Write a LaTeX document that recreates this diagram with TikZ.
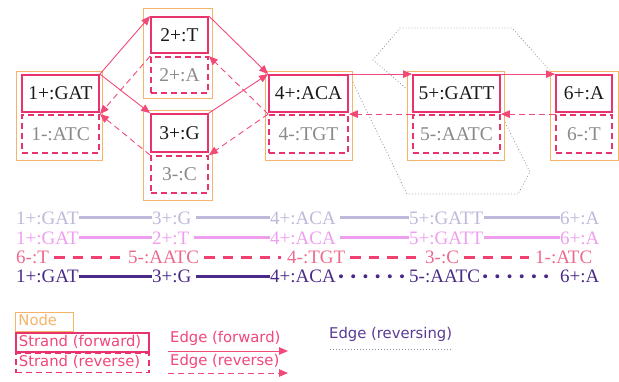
\documentclass[tikz,border=0pt]{standalone}
\usepackage{fontspec}
\setmainfont{Liberation Serif}
\setsansfont{DejaVu Sans}
\usetikzlibrary{arrows.meta,backgrounds}
\definecolor{strandc}{HTML}{E8336D}
\definecolor{edgec}{HTML}{F24A78}
\definecolor{nodec}{HTML}{F6B46A}
\definecolor{fwdtext}{HTML}{1A1A1A}
\definecolor{revtext}{HTML}{8A8A8A}
\definecolor{dotc}{HTML}{8C8CA6}
\definecolor{rowa}{HTML}{BDB9DA}
\definecolor{rowb}{HTML}{EE9EEE}
\definecolor{rowc}{HTML}{EC6A8C}
\definecolor{rowcl}{HTML}{F0406F}
\definecolor{rowd}{HTML}{4A2A88}
\definecolor{legpink}{HTML}{F0467A}
\definecolor{legpurple}{HTML}{5A3A96}
\begin{document}
\begin{tikzpicture}[x=1pt,y=-1pt,
  nodebox/.style={draw=nodec, line width=0.9pt, fill=white, inner sep=0pt},
  fwd/.style={draw=strandc, line width=1.8pt, fill=white, inner sep=0pt, font=\fontsize{19.5}{21}\selectfont, text=fwdtext},
  rev/.style={draw=strandc, line width=1.8pt, dash pattern=on 6pt off 4pt, fill=white, inner sep=0pt, font=\fontsize{19.5}{21}\selectfont, text=revtext},
  fe/.style={draw=edgec, line width=0.9pt, -{Triangle[length=9pt,width=7.5pt]}},
  re/.style={fe, dash pattern=on 6pt off 4pt},
  rvs/.style={draw=dotc, line width=0.8pt, dash pattern=on 0.8pt off 2.2pt},
  rowtxt/.style={anchor=base west, inner sep=0pt, font=\fontsize{19}{21}\selectfont, text height=12.5pt, text depth=0pt},
  solidrow/.style={line width=2.6pt, shorten >=0.5pt, shorten <=0.5pt},
  dashrow/.style={line width=3.2pt, dash pattern=on 10.5pt off 8pt, shorten <=5pt, shorten >=6pt},
  dotrow/.style={line width=4pt, line cap=round, dash pattern=on 0pt off 12.2pt, shorten <=5pt, shorten >=6pt},
  legtxt/.style={font=\sffamily\fontsize{14.8}{16}\selectfont, inner sep=0pt, anchor=west, text height=10.5pt, text depth=3pt},
  legbox/.style={legtxt, inner xsep=3pt, text width=127pt, align=left, minimum height=19pt}
]
\useasboundingbox (0,0) rectangle (619,381);

% node boxes (orange)
\node[nodebox, minimum width=86pt, minimum height=89pt] (o1) at (59,115.5) {};
\node[nodebox, minimum width=69pt, minimum height=90pt] (o2) at (177.5,53) {};
\node[nodebox, minimum width=69pt, minimum height=90pt] (o3) at (177.5,155) {};
\node[nodebox, minimum width=87pt, minimum height=89pt] (o4) at (308.5,115.5) {};
\node[nodebox, minimum width=97pt, minimum height=89pt] (o5) at (455.5,115.5) {};
\node[nodebox, minimum width=68pt, minimum height=89pt] (o6) at (584,115.5) {};

% strands
\node[fwd, minimum width=77pt, minimum height=37pt] (f1) at (60.5,93.5) {1+:GAT};
\node[rev, minimum width=77pt, minimum height=38pt] (r1) at (60.5,134) {1-:ATC};
\node[fwd, minimum width=57pt, minimum height=36pt] (f2) at (179.5,35) {2+:T};
\node[rev, minimum width=57pt, minimum height=36pt] (r2) at (179.5,75) {2+:A};
\node[fwd, minimum width=57pt, minimum height=38pt] (f3) at (179.5,133) {3+:G};
\node[rev, minimum width=57pt, minimum height=37pt] (r3) at (179.5,174.5) {3-:C};
\node[fwd, minimum width=79pt, minimum height=37pt] (f4) at (308.5,93.5) {4+:ACA};
\node[rev, minimum width=79pt, minimum height=38pt] (r4) at (308.5,134) {4-:TGT};
\node[fwd, minimum width=87pt, minimum height=37pt] (f5) at (456.5,93.5) {5+:GATT};
\node[rev, minimum width=87pt, minimum height=38pt] (r5) at (456.5,134) {5-:AATC};
\node[fwd, minimum width=56pt, minimum height=37pt] (f6) at (584,93.5) {6+:A};
\node[rev, minimum width=56pt, minimum height=38pt] (r6) at (584,134) {6-:T};

% reversing edges (dotted, behind the node boxes)
\coordinate (a1) at (407,194);
\coordinate (a2) at (518,194);
\coordinate (a3) at (530,172);
\coordinate (b1) at (373,60);
\coordinate (b2) at (400,28);
\coordinate (b3) at (512,28);
\begin{scope}[on background layer]
\draw[rvs] (f4.north east) -- (a1) -- (a2) -- (a3) -- (r5.north east);
\draw[rvs] (f5.west) -- (b1) -- (b2) -- (b3) -- (o6.north west);
\end{scope}

% forward edges
\draw[fe] (f1.north east) -- (f2.north west);
\draw[fe] (f1.north east) -- (f3.north west);
\draw[fe] (f2.north east) -- (f4.north west);
\draw[fe] (f3.north east) -- (f4.north west);
\draw[fe] (f4.north east) -- (f5.north west);
\draw[fe] (f5.north east) -- (f6.north west);
% reverse edges
\draw[re] (r2.north west) -- (r1.north east);
\draw[re] (r3.north west) -- (r1.north east);
\draw[re] (r4.north west) -- (r2.north east);
\draw[re] (r4.north west) -- (r3.north east);
\draw[re] (r5.north west) -- (r4.north east);
\draw[re] (r6.north west) -- (r5.north east);

% paths
\node[rowtxt, text=rowa] (p1a) at (16,224) {1+:GAT};
\node[rowtxt, text=rowa] (p1b) at (152,224) {3+:G};
\node[rowtxt, text=rowa] (p1c) at (270,224) {4+:ACA};
\node[rowtxt, text=rowa] (p1d) at (409,224) {5+:GATT};
\node[rowtxt, text=rowa] (p1e) at (560,224) {6+:A};
\draw[solidrow, rowa] (p1a.east) -- (p1b.west);
\draw[solidrow, rowa, shorten <=4pt] (p1b.east) -- (p1c.west);
\draw[solidrow, rowa, shorten <=4pt] (p1c.east) -- (p1d.west);
\draw[solidrow, rowa] (p1d.east) -- (p1e.west);

\node[rowtxt, text=rowb] (p2a) at (16,244) {1+:GAT};
\node[rowtxt, text=rowb] (p2b) at (152,244) {2+:T};
\node[rowtxt, text=rowb] (p2c) at (270,244) {4+:ACA};
\node[rowtxt, text=rowb] (p2d) at (409,244) {5+:GATT};
\node[rowtxt, text=rowb] (p2e) at (560,244) {6+:A};
\draw[solidrow, rowb] (p2a.east) -- (p2b.west);
\draw[solidrow, rowb, shorten <=4pt] (p2b.east) -- (p2c.west);
\draw[solidrow, rowb, shorten <=4pt] (p2c.east) -- (p2d.west);
\draw[solidrow, rowb] (p2d.east) -- (p2e.west);

\node[rowtxt, text=rowc] (p3a) at (16,263.5) {6-:T};
\node[rowtxt, text=rowc] (p3b) at (128,263.5) {5-:AATC};
\node[rowtxt, text=rowc] (p3c) at (287,263.5) {4-:TGT};
\node[rowtxt, text=rowc] (p3d) at (425,263.5) {3-:C};
\node[rowtxt, text=rowc] (p3e) at (535,263.5) {1-:ATC};
\draw[dashrow, rowcl] (p3a.east) -- (p3b.west);
\draw[dashrow, rowcl] (p3b.east) -- (p3c.west);
\draw[dashrow, rowcl] (p3c.east) -- (p3d.west);
\draw[dashrow, rowcl] (p3d.east) -- (p3e.west);

\node[rowtxt, text=rowd] (p4a) at (16,282.5) {1+:GAT};
\node[rowtxt, text=rowd] (p4b) at (152,282.5) {3+:G};
\node[rowtxt, text=rowd] (p4c) at (270,282.5) {4+:ACA};
\node[rowtxt, text=rowd] (p4d) at (409,282.5) {5-:AATC};
\node[rowtxt, text=rowd] (p4e) at (560,282.5) {6+:A};
\draw[solidrow, rowd] (p4a.east) -- (p4b.west);
\draw[solidrow, rowd, shorten <=4pt] (p4b.east) -- (p4c.west);
\draw[dotrow, rowd] (p4c.east) -- (p4d.west);
\draw[dotrow, rowd] (p4d.east) -- (p4e.west);

% legend
\node[legtxt, draw=nodec, line width=0.9pt, text=nodec, inner xsep=3pt, text width=52pt, align=left, minimum height=19pt] (lnode) at (15,321.5) {Node};
\node[legbox, draw=strandc, line width=1.8pt, text=legpink] (lfwd) at (15,342.5) {Strand (forward)};
\node[legbox, draw=strandc, line width=1.8pt, dash pattern=on 6pt off 4pt, text=legpink] (lrev) at (15,363) {Strand (reverse)};
\node[legtxt, text=legpink] (lef) at (170,339) {Edge (forward)};
\node[legtxt, text=legpink] (ler) at (170,362) {Edge (reverse)};
\node[legtxt, text=legpurple] (lers) at (329,335) {Edge (reversing)};
\coordinate (lefa) at (168,351);
\coordinate (lefb) at (288,351);
\coordinate (lera) at (168,373);
\coordinate (lerb) at (288,373);
\coordinate (lrsa) at (330,349);
\coordinate (lrsb) at (451,349);
\draw[fe] (lefa) -- (lefb);
\draw[re] (lera) -- (lerb);
\draw[rvs] (lrsa) -- (lrsb);
\end{tikzpicture}
\end{document}
